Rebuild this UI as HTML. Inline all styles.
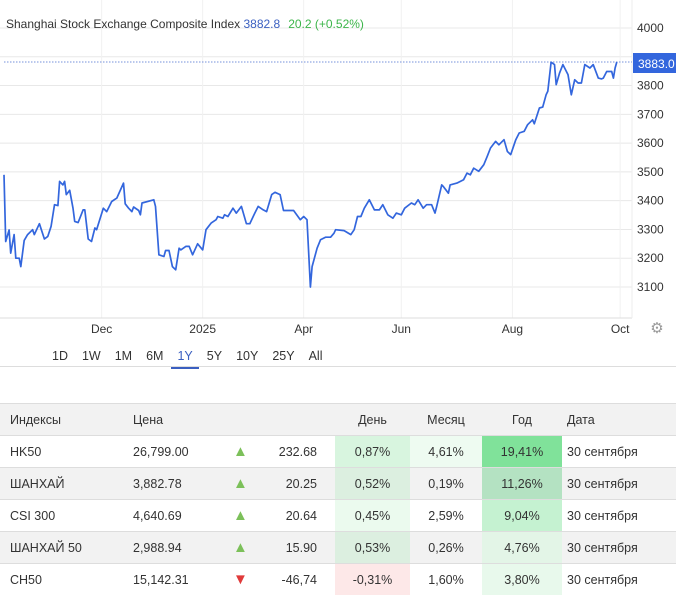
<!DOCTYPE html>
<html><head><meta charset="utf-8"><style>
body{margin:0;width:676px;height:590px;overflow:hidden;background:#fff;font-family:"Liberation Sans",sans-serif;color:#333;position:relative}
.abs{position:absolute}
table{border-collapse:collapse;position:absolute;left:0;top:403px;width:676px;font-size:12.5px}
td{height:31px;padding:0;border-top:1px solid #ddd}
tr.g td{background:#f2f2f2}
.c{text-align:center}.r{text-align:right}
.up{color:#7cc05a;font-size:15px}.dn{color:#e03a3a;font-size:15px}
#rng span{margin-right:14px;font-size:12.5px;color:#333}
</style></head><body>
<svg class="abs" style="left:0;top:0" width="676" height="340">
<g id="grid"></g><g id="vgrid"></g>
<line x1="0" y1="318" x2="632" y2="318" stroke="#ddd"/>
<line x1="632" y1="0" x2="632" y2="318" stroke="#eee"/>
<g id="yt"></g><g id="xt"></g>
<line x1="4" x2="632" y1="62" y2="62" stroke="#4a6fd0" stroke-dasharray="1.5,1.5" stroke-width="0.8"/>
<path id="ln" fill="none" stroke="#3366dd" stroke-width="1.7" stroke-linejoin="round"/>
<rect x="633" y="53" width="43" height="20" fill="#3366dd"/>
<text x="638" y="68" fill="#fff" font-size="12">3883.0</text>
<text x="6" y="28" font-size="12" fill="#333">Shanghai Stock Exchange Composite Index <tspan fill="#3a5fc0">3882.8</tspan><tspan dx="8" fill="#3cb54a">20.2 (+0.52%)</tspan></text>
<text x="657" y="333" font-size="15" fill="#999" text-anchor="middle">⚙</text>
</svg>
<div class="abs" style="left:0;top:340px;width:676px;height:26px;border-bottom:1px solid #ddd">
<div id="rng" class="abs" style="left:52px;top:7px;white-space:nowrap">
<span>1D</span><span>1W</span><span>1M</span><span>6M</span><span style="color:#3a5fc0;border-bottom:2px solid #3a5fc0;padding:0 6px 4px;margin-left:-6px;margin-right:8px">1Y</span><span>5Y</span><span>10Y</span><span>25Y</span><span>All</span></div></div>
<table>
<colgroup><col style="width:133px"><col style="width:100px"><col style="width:30px"><col style="width:54px"><col style="width:18px"><col style="width:75px"><col style="width:72px"><col style="width:80px"><col></colgroup>
<tr class="g"><td style="padding-left:10px">Индексы</td><td>Цена</td><td></td><td></td><td></td><td class="c">День</td><td class="c">Месяц</td><td class="c">Год</td><td style="padding-left:5px">Дата</td></tr>
<tr><td style="padding-left:10px">HK50</td><td>26,799.00</td><td class="up">▲</td><td class="r">232.68</td><td></td><td class="c" style="background:#d8f5df">0,87%</td><td class="c" style="background:#eefbf1">4,61%</td><td class="c" style="background:#80e29a">19,41%</td><td style="padding-left:5px">30 сентября</td></tr>
<tr class="g"><td style="padding-left:10px">ШАНХАЙ</td><td>3,882.78</td><td class="up">▲</td><td class="r">20.25</td><td></td><td class="c" style="background:#dcefe0">0,52%</td><td class="c">0,19%</td><td class="c" style="background:#b4e2c2">11,26%</td><td style="padding-left:5px">30 сентября</td></tr>
<tr><td style="padding-left:10px">CSI 300</td><td>4,640.69</td><td class="up">▲</td><td class="r">20.64</td><td></td><td class="c" style="background:#ebfaee">0,45%</td><td class="c">2,59%</td><td class="c" style="background:#c5f2d1">9,04%</td><td style="padding-left:5px">30 сентября</td></tr>
<tr class="g"><td style="padding-left:10px">ШАНХАЙ 50</td><td>2,988.94</td><td class="up">▲</td><td class="r">15.90</td><td></td><td class="c" style="background:#dcefe0">0,53%</td><td class="c">0,26%</td><td class="c" style="background:#e3f5e7">4,76%</td><td style="padding-left:5px">30 сентября</td></tr>
<tr><td style="padding-left:10px">CH50</td><td>15,142.31</td><td class="dn">▼</td><td class="r">-46,74</td><td></td><td class="c" style="background:#fde8e8">-0,31%</td><td class="c">1,60%</td><td class="c" style="background:#e8f9ec">3,80%</td><td style="padding-left:5px">30 сентября</td></tr>
</table>
<script>
const days=[0,1,3,4,6,7,9,10,12,14,17,18,21,24,26,28,30,32,33,35,36,37,39,41,42,44,47,48,50,52,54,55,59,61,64,67,71,72,74,76,77,80,81,82,89,90,92,95,96,98,100,102,104,105,108,110,112,115,118,120,123,126,127,130,131,133,136,138,141,144,146,149,151,154,156,159,161,164,166,169,172,176,178,180,182,183,186,188,191,194,196,197,202,206,208,210,212,214,217,220,223,225,228,231,233,236,238,242,244,246,249,251,254,256,257,260,261,264,265,269,273,275,277,279,282,285,287,289,292,294,297,299,301,304,306,309,311,314,315,318,320,322,323,325,327,328,330,332,335,337,339,341,343,345,348,350,353,355,356,358,361,362,363,364];
const prices=[3490,3258,3298,3218,3282,3200,3200,3171,3262,3282,3299,3282,3320,3267,3276,3311,3386,3383,3467,3455,3467,3421,3436,3374,3328,3324,3368,3368,3267,3258,3305,3299,3374,3362,3397,3409,3461,3389,3374,3362,3378,3366,3351,3392,3403,3380,3212,3206,3227,3227,3171,3160,3235,3229,3241,3241,3212,3250,3229,3299,3322,3334,3345,3339,3351,3345,3374,3357,3380,3320,3320,3357,3380,3368,3362,3421,3429,3421,3366,3366,3366,3334,3345,3334,3100,3171,3235,3264,3273,3273,3287,3299,3296,3282,3299,3345,3345,3374,3403,3368,3368,3386,3351,3339,3357,3351,3374,3392,3386,3403,3374,3386,3386,3357,3380,3455,3449,3426,3455,3461,3473,3496,3490,3513,3502,3525,3554,3583,3606,3594,3612,3571,3560,3612,3635,3641,3664,3681,3667,3722,3725,3768,3780,3881,3873,3803,3844,3873,3838,3768,3820,3809,3809,3873,3861,3873,3826,3823,3826,3849,3849,3826,3861,3882];
const yTicks=[3100,3200,3300,3400,3500,3600,3700,3800,4000];
const xTickLabels=["Dec","2025","Apr","Jun","Aug","Oct"];
const xTickDays=[58,118,178,236,302,366];
const X=d=>4+d/0.594, Y=v=>28+(4000-v)*0.2878;
const ns="http://www.w3.org/2000/svg";
function mk(p,t,a){const e=document.createElementNS(ns,t);for(const k in a)e.setAttribute(k,a[k]);p.appendChild(e);return e;}
const g=document.getElementById('grid'),yt=document.getElementById('yt'),xt=document.getElementById('xt'),vg=document.getElementById('vgrid');
[3100,3200,3300,3400,3500,3600,3700,3800,3900,4000].forEach(v=>{const l=mk(g,'line',{x1:0,x2:632,y1:Y(v),y2:Y(v),stroke:'#e8e8e8'});

});
yTicks.forEach(v=>{const t=mk(yt,'text',{x:637,y:Y(v)+4,'font-size':12,fill:'#333'});t.textContent=v;

});
xTickLabels.forEach((s,i)=>{const x=X(xTickDays[i]);mk(vg,'line',{x1:x,x2:x,y1:0,y2:318,stroke:'#f1f1f1'});
const t=mk(xt,'text',{x:x,y:333,'font-size':12,fill:'#333','text-anchor':'middle'});t.textContent=s;

});
document.getElementById('ln').setAttribute('d',days.map((d,i)=>(i?'L':'M')+X(d).toFixed(1)+' '+Y(prices[i]).toFixed(1)).join(''));
</script>
</body></html>
